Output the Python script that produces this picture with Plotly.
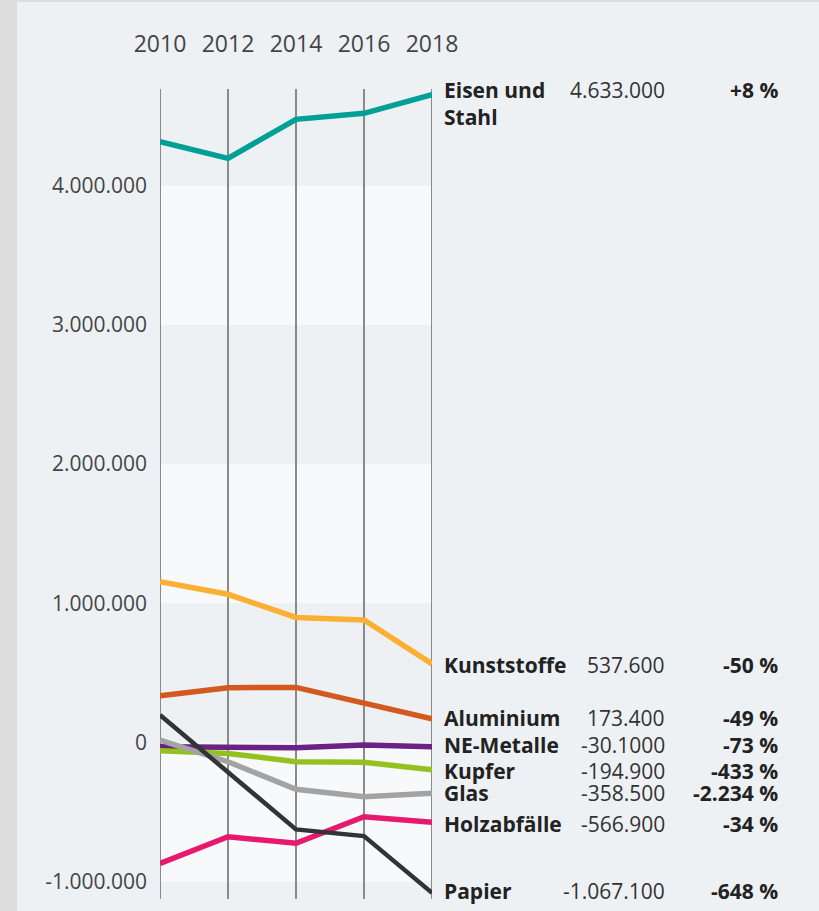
import plotly.graph_objects as go

years = [2010, 2012, 2014, 2016, 2018]

eisen = [4316000, 4197000, 4477000, 4520000, 4655000]
kunststoffe = [1155000, 1065000, 899000, 880000, 565000]
aluminium = [336000, 394000, 396000, 282000, 170000]
ne_metalle = [-30000, -37000, -37000, -18000, -30100]
kupfer = [-59000, -78000, -138000, -142000, -194900]
glas = [18000, -138000, -336000, -389000, -365000]
holz = [-868000, -677000, -724000, -533000, -572000]
papier = [198000, -210000, -624000, -672000, -1080000]

series_names = ["Eisen und<br>Stahl", "Kunststoffe", "Aluminium", "NE-Metalle",
                "Kupfer", "Glas", "Holzabfälle", "Papier"]
series_values = [eisen, kunststoffe, aluminium, ne_metalle, kupfer, glas, holz, papier]
series_colors = ["#00a096", "#fbb034", "#d4591f", "#6b2285", "#95c11f", "#a3a3a3",
                 "#e6196f", "#333333"]
series_widths = [5.5, 5.5, 5.5, 5.5, 5.5, 5.5, 5.5, 4.5]

end_labels = ["4.633.000", "537.600", "173.400", "-30.1000", "-194.900", "-358.500",
              "-566.900", "-1.067.100"]
pct_labels = ["+8 %", "-50 %", "-49 %", "-73 %", "-433 %", "-2.234 %", "-34 %", "-648 %"]
# label anchor values (adjusted positions to avoid overlap)
label_pos = [4600000, 557000, 174000, -18000, -205000, -362000, -588000, -1065000]

ytick_vals = [-1000000, 0, 1000000, 2000000, 3000000, 4000000]
ytick_text = ["-1.000.000", "0", "1.000.000", "2.000.000", "3.000.000", "4.000.000"]

band_ranges = [(3000000, 4000000), (1000000, 2000000), (-1000000, 0)]
y_range = [-1124000, 4695000]

CARD = "#edf1f4"
BAND = "#f8f9fb"
FONT = "Open Sans"

fig = go.Figure()
for name, vals, col, w in zip(series_names, series_values, series_colors, series_widths):
    fig.add_trace(go.Scatter(x=years, y=vals, mode="lines", name=name,
                             line=dict(color=col, width=w), showlegend=False,
                             hoverinfo="skip"))

shapes = []
for y0, y1 in band_ranges:
    shapes.append(dict(type="rect", xref="x", yref="y", x0=years[0], x1=years[-1],
                       y0=y0, y1=y1, fillcolor=BAND, line=dict(width=0), layer="below"))
for yr in years:
    shapes.append(dict(type="line", xref="x", yref="y", x0=yr, x1=yr,
                       y0=y_range[0], y1=y_range[1],
                       line=dict(color="#8a8a8a", width=2), layer="below"))
# page border strips
shapes.append(dict(type="rect", xref="paper", yref="paper", x0=-0.6, x1=-0.5257,
                   y0=-0.05, y1=1.15, fillcolor="#dcdcdc", line=dict(width=0), layer="below"))
shapes.append(dict(type="rect", xref="paper", yref="paper", x0=-0.6, x1=2.5,
                   y0=1.1075, y1=1.15, fillcolor="#dcdcdc", line=dict(width=0), layer="below"))

annotations = []
for name, val, pct, pos in zip(series_names, end_labels, pct_labels, label_pos):
    two = "<br>" in name
    yanchor = "top" if two else "middle"
    yoff = 28 if two else 0
    annotations.append(dict(x=0.0, xref="paper", y=pos, yref="y", text="<b>" + name + "</b>",
                            showarrow=False, xanchor="left", yanchor=yanchor, align="left",
                            xshift=282, yshift=yoff,
                            font=dict(family=FONT, size=21, color="#222222")))
    annotations.append(dict(x=0.0, xref="paper", y=pos, yref="y", text=val,
                            showarrow=False, xanchor="right", yanchor=yanchor,
                            xshift=507, yshift=yoff,
                            font=dict(family=FONT, size=21, color="#333333")))
    annotations.append(dict(x=0.0, xref="paper", y=pos, yref="y", text="<b>" + pct + "</b>",
                            showarrow=False, xanchor="right", yanchor=yanchor,
                            xshift=620, yshift=yoff,
                            font=dict(family=FONT, size=21, color="#222222")))

fig.update_layout(
    width=819, height=911,
    margin=dict(l=160, r=387, t=89, b=12),
    paper_bgcolor=CARD, plot_bgcolor="rgba(0,0,0,0)",
    font=dict(family=FONT, color="#444444"),
    shapes=shapes, annotations=annotations,
    xaxis=dict(range=[years[0], years[-1]], side="top", tickvals=years,
               ticktext=[str(y) for y in years], showgrid=False,
               zeroline=False, showline=False, ticks="",
               ticklabelstandoff=31, tickfont=dict(family=FONT, size=23, color="#444444")),
    yaxis=dict(range=y_range, tickvals=ytick_vals, ticktext=ytick_text,
               showgrid=False, zeroline=False, showline=False, ticks="",
               ticklabelstandoff=12, tickfont=dict(family=FONT, size=21, color="#444444")),
)

fig.write_html("out.html", post_script="document.body.style.margin='0px';",
               config={"displayModeBar": False})
